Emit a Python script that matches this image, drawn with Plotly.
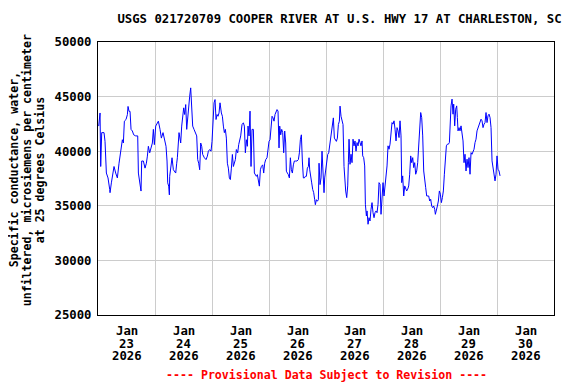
import plotly.graph_objects as go
import pandas as pd

# Hours since 2026-01-23 00:00 and specific conductance (uS/cm)
hours = [
    0.3, 0.86, 1.14, 1.56, 2.54, 2.96, 3.52, 4.22, 4.93, 5.07, 5.63, 6.19, 6.75, 7.45, 8.15, 8.86,
    9.42, 9.84, 10.26, 10.68, 11.1, 11.8, 12.37, 12.65, 13.07, 13.49, 13.91, 14.47, 15.03, 15.87,
    16.72, 17.0, 17.7, 18.12, 18.4, 19.1, 19.8, 20.37, 20.79, 21.21, 21.77, 22.47, 22.89, 23.31,
    23.73, 24.3, 24.86, 25.42, 26.12, 26.68, 27.38, 28.08, 28.64, 29.07, 29.35, 29.77, 30.05,
    30.19, 30.75, 31.17, 31.73, 32.72, 33.14, 33.42, 34.12, 34.82,
    35.24, 35.66, 36.08, 36.5, 36.93, 37.35, 37.77, 38.19, 38.61, 39.03, 39.45, 39.87, 40.43,
    41.0, 41.56, 41.98, 42.4, 42.82, 43.24, 43.66, 44.08, 44.79, 45.49, 46.05, 46.47, 47.03,
    47.59, 48.01, 48.43, 48.86, 49.28, 49.7, 50.12, 50.54, 50.96, 51.38, 51.94, 52.37, 52.79,
    53.21, 53.63, 54.05, 54.47, 54.89, 55.31, 55.73, 56.16, 56.58, 57.0, 57.42, 57.84, 58.26,
    58.82, 59.24, 59.66, 60.08, 60.64, 61.21, 61.63, 62.05, 62.47, 62.89, 63.17, 63.59, 64.01,
    64.43, 64.86, 65.42, 65.84, 66.26, 66.68, 67.1, 67.52, 67.94, 68.37, 68.79, 69.35,
    69.77, 70.19, 70.61, 71.17, 71.59, 72.01, 72.43, 72.85, 73.28, 73.7, 74.12, 74.54, 74.96,
    75.38, 75.8, 76.22, 76.51, 76.93, 77.35, 77.77, 78.19, 78.61, 79.03, 79.31, 79.73, 80.16,
    80.58, 81.0, 81.42, 81.84, 82.26, 82.68, 83.24, 83.8, 84.37, 84.79, 85.21, 85.63, 86.05,
    86.47, 86.89, 87.31, 87.73, 88.15, 88.58, 88.85, 89.14, 89.56, 89.98, 90.4, 90.82, 91.24,
    91.52, 91.94, 92.37, 92.79, 93.07, 93.49, 93.91, 94.33, 94.75, 95.17, 95.45, 95.87, 96.29,
    96.72, 97.14, 97.56, 97.98, 98.4, 98.82, 99.1, 99.52, 99.94, 100.37, 100.79, 101.21, 101.63,
    101.91, 102.33, 102.75, 103.17, 103.59, 104.01, 104.29,
    104.72, 105.14, 105.42, 105.7, 106.12, 106.54, 106.96, 107.38, 107.8, 108.22, 108.64,
    109.06, 109.49, 109.91, 110.33, 110.75, 111.17, 111.45, 111.87, 112.29, 112.58, 113.0,
    113.28, 113.7, 114.12, 114.54, 114.96, 115.38, 115.8, 116.22, 116.64, 117.07, 117.49,
    117.91, 118.33, 118.75, 119.17, 119.59, 120.01, 120.43, 120.86, 121.28, 121.7, 122.12,
    122.54, 122.96, 123.38, 123.8, 124.22, 124.64, 125.07, 125.49, 125.91, 126.33, 126.75,
    127.17, 127.59, 127.87, 128.29, 128.72, 129.14, 129.56, 129.98, 130.4, 130.82, 131.24,
    131.66, 132.08, 132.51, 132.93, 133.35, 133.77, 134.19, 134.61, 135.03, 135.45, 135.87,
    136.29, 136.72, 137.14, 137.56, 137.98, 138.4,
    139.24, 139.66, 140.08, 140.51, 140.93, 141.35, 141.77, 142.05, 142.47, 142.89, 143.31,
    143.73, 144.16, 144.58, 145.0, 145.42, 145.84, 146.26, 146.68, 147.1, 147.52, 147.95,
    148.22, 148.64, 149.07, 149.49, 149.77, 150.19, 150.61, 151.03, 151.31, 151.59, 152.01,
    152.43, 152.86, 153.28, 153.7, 154.12, 154.54, 154.96, 155.38, 155.8, 156.22, 156.64,
    157.07, 157.49, 157.91, 158.33, 158.75, 159.17, 159.59, 160.01, 160.43, 160.86, 161.28,
    161.7, 162.12, 162.54, 162.96, 163.38, 163.8, 164.22, 164.64, 165.07, 165.49, 165.91,
    166.33, 166.75, 167.17, 167.59, 168.01, 168.43, 168.86, 169.28,
]
values = [
    42300, 43500, 38600, 41700, 41700, 40900, 38000, 37550, 36500, 36200, 37100, 38000, 38600, 38000, 37550, 38900,
    39700, 40150, 41050, 40750, 42750, 42900, 43350, 44100, 43650, 43650, 42000, 41850, 41500, 41400,
    41400, 38000, 37100, 36350, 39100, 39100, 38450, 38900, 39550, 40450, 39850, 40300, 40750, 42000,
    40600, 42300, 42600, 42750, 42000, 41200, 41700, 41050, 40450, 39100, 37100, 36800, 36000,
    37700, 39100, 39400, 38300, 38000, 38900, 39400, 41700, 40750,
    42300, 43200, 43970, 43360, 44270, 42000, 43200, 43500, 45040, 45800, 43500, 42300, 42000,
    41700, 41400, 39230, 38900, 38300, 40750, 40450, 39700, 39400, 39230, 39550, 40000, 40150,
    40000, 40900, 43360, 44430, 44730, 42900, 43360, 43200, 43500, 44430, 43500, 43200, 42300,
    41700, 42000, 41200, 38900, 38450, 37550, 37400, 38450, 39700, 38600, 38900, 39230, 40150,
    39850, 40600, 41050, 41400, 42440, 42600, 42300, 39850, 41050, 40450, 42300, 41400, 43670,
    38600, 42000, 42000, 38000, 37850, 37700, 37850, 37250, 36800, 38300, 38600, 38750,
    38000, 38900, 39230, 39400, 40450, 40900, 41050, 42600, 43200, 43050, 42750, 43360, 43670,
    43810, 43670, 40300, 42300, 41500, 42000, 41700, 39850, 41850, 40750, 38170, 38000, 37850,
    37550, 39400, 38300, 38000, 38750, 39100, 39100, 39100, 39230, 39850, 41050, 41500, 39100,
    37550, 37550, 37700, 37700, 38450, 38600, 39400, 38300, 37400, 37100, 36500, 36200, 35560,
    35100, 35560, 35420, 35560, 38900, 36940, 37550, 40000, 37100, 36200, 37550, 38450, 39400,
    39700, 39850, 40600, 40900, 41700, 42440, 43050, 41200, 41050, 40900, 41200, 42440, 42750,
    44130, 43200, 42900, 42440, 38600, 37100, 36350,
    35750, 36820, 38950, 41100, 38800, 39720, 38950, 41100, 40490, 40940, 40000,
    40790, 40490, 41100, 40790, 40490, 40940, 39570, 39410, 38650, 35140, 34070,
    34530, 33310, 33910, 33610, 34680, 35290, 34370, 33910, 34370, 34530, 34370,
    35140, 37120, 36970, 34220, 35600, 37120, 35900, 36970, 37740, 38650, 40490,
    40180, 40640, 41400, 42620, 42480, 42780, 42020, 40940, 42160, 41860, 41250,
    42780, 41400, 37120, 37740, 35900, 36820, 36520, 36360, 36520, 36820, 37890,
    39570, 38950, 39410, 38500, 38950, 37890, 38190, 38950, 40790, 42620, 43540,
    43080, 41400, 38190, 37580, 36660, 35900,
    35900, 35440, 35600, 34980, 34830, 34980, 34680, 34220, 34830, 34980, 35440,
    36360, 36060, 35290, 35750, 36360, 37890, 39410, 40490, 40640, 40640, 40790,
    43080, 44150, 44770, 43390, 44310, 42320, 43850, 44150, 43080, 41860, 42160,
    41860, 42320, 41560, 40940, 38950, 39720, 38190, 39270, 38500, 39410, 37890,
    39870, 39720, 40030, 40180, 40790, 41100, 41860, 42160, 42480, 42620, 42930,
    42780, 42160, 42480, 42620, 43540, 42620, 43240, 43390, 43080, 42160, 39110,
    38500, 37740, 37280, 37890, 39570, 38350, 38190, 37740,
]

# X tick labels (one per day, centred on the day)
tick_months = ["Jan"] * 8
tick_days = ["23", "24", "25", "26", "27", "28", "29", "30"]
tick_years = ["2026"] * 8

start = pd.Timestamp("2026-01-23 00:00")
times = [start + pd.Timedelta(hours=h) for h in hours]
day_centres = [start + pd.Timedelta(days=i, hours=12) for i in range(len(tick_days))]

title_text = "USGS 021720709 COOPER RIVER AT U.S. HWY 17 AT CHARLESTON, SC"
y_title_lines = ["Specific conductance, water,",
                 "unfiltered, microsiemens per centimeter",
                 "at 25 degrees Celsius"]
footer = "---- Provisional Data Subject to Revision ----"

FONT = "DejaVu Sans Mono"
W, H = 568, 376  # page has an 8px body margin

fig = go.Figure()
fig.add_trace(go.Scatter(x=times, y=values, mode="lines",
                         line=dict(color="#0000FF", width=1), showlegend=False))

annotations = []
tick_font = dict(family=FONT, size=12.3, color="black", weight="bold")
for xc, m, d, y in zip(day_centres, tick_months, tick_days, tick_years):
    for txt, shift in ((m, -16), (d, -28.5), (y, -41)):
        annotations.append(dict(text=txt, x=xc, xref="x", y=0, yref="paper", yshift=shift,
                                xanchor="center", yanchor="middle", showarrow=False,
                                font=tick_font))
for line, shift in zip(y_title_lines, (-84, -71, -58)):
    annotations.append(dict(text=line, x=0, xref="paper", xshift=shift, y=0.53, yref="paper",
                            textangle=-90, xanchor="center", yanchor="middle", showarrow=False,
                            font=dict(family=FONT, size=11.6, color="black", weight="bold")))
annotations.append(dict(text=footer, xref="paper", yref="paper", x=0.5, y=-60 / 273,
                        xanchor="center", yanchor="middle", showarrow=False,
                        font=dict(family=FONT, size=11.6, color="red", weight="bold")))

fig.update_layout(
    width=W, height=H,
    margin=dict(l=90, r=22, t=34, b=69),
    paper_bgcolor="white", plot_bgcolor="white",
    font=dict(family=FONT, size=12, color="black", weight="bold"),
    title=dict(text=title_text, x=331.5 / W, xanchor="center", y=1 - 11 / H, yanchor="middle",
               font=dict(family=FONT, size=12.3, color="black", weight="bold")),
    xaxis=dict(
        type="date",
        range=["2026-01-23 00:00", "2026-01-31 00:00"],
        tick0="2026-01-23", dtick=86400000,
        showticklabels=False,
        showgrid=True, gridcolor="#cccccc", gridwidth=1,
        showline=True, linecolor="black", linewidth=1, mirror=True,
        ticks="", zeroline=False,
    ),
    yaxis=dict(
        range=[25000, 50000], dtick=5000, tickformat="d",
        showgrid=True, gridcolor="#cccccc", gridwidth=1,
        showline=True, linecolor="black", linewidth=1, mirror=True,
        ticks="outside", ticklen=3, tickcolor="rgba(0,0,0,0)", zeroline=False,
        tickfont=tick_font,
    ),
    annotations=annotations,
)

fig.write_html("out.html")
